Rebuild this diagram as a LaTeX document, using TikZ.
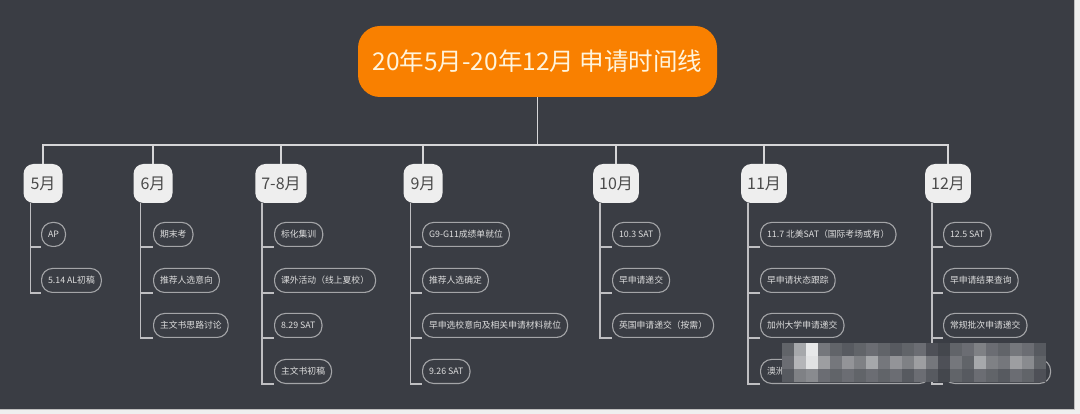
\documentclass[tikz,border=0pt]{standalone}
\usepackage{fontspec}
\setmainfont{Noto Sans CJK SC}
\definecolor{bgdark}{HTML}{3A3D44}
\definecolor{bglight}{HTML}{EFEFEF}
\definecolor{titleorange}{HTML}{F98000}
\definecolor{titletext}{HTML}{FFF4DC}
\definecolor{monthfill}{HTML}{EEEEEE}
\definecolor{monthtext}{HTML}{4A4A4A}
\definecolor{linecol}{HTML}{D6D6D8}
\definecolor{pillcol}{HTML}{A4A5A8}
\definecolor{leaftext}{HTML}{DDDDDD}
\tikzset{
  titlebox/.style={fill=titleorange, rounded corners=22pt, minimum width=359pt, minimum height=71pt,
    text=titletext, font=\fontsize{24.5}{24.5}\selectfont, inner sep=0pt},
  monthbox/.style={fill=monthfill, rounded corners=10pt, minimum width=39pt, minimum height=39pt,
    inner xsep=6pt, inner ysep=0pt, text=monthtext, font=\fontsize{16}{16}\selectfont},
  leafbox/.style={draw=pillcol, line width=1.1pt, rounded corners=11pt, minimum height=24pt,
    inner xsep=6.5pt, inner ysep=0pt, text=leaftext, font=\fontsize{8.8}{8.8}\selectfont, anchor=south west},
  busline/.style={draw=linecol, line width=1.9pt},
  trunkline/.style={draw=linecol!85!bgdark, line width=1.3pt},
}
\begin{document}
\begin{tikzpicture}[x=1pt,y=-1pt]
\useasboundingbox (0,0) rectangle (1080,414);
\fill[bglight] (0,0) rectangle (1080,414);
\fill[bgdark] (0,0) rectangle (1074,409);
\draw[black!25, line width=0.6pt] (1074.3,0) -- (1074.3,409.3) -- (0,409.3);

% title
\node[titlebox] (title) at (537.5,61.5) {20年5月-20年12月 申请时间线};

% months
\node[monthbox] (m1) at (43,183.5) {5月};
\node[monthbox] (m2) at (153,183.5) {6月};
\node[monthbox] (m3) at (281,183.5) {7-8月};
\node[monthbox] (m4) at (423,183.5) {9月};
\node[monthbox] (m5) at (616,183.5) {10月};
\node[monthbox] (m6) at (764,183.5) {11月};
\node[monthbox] (m7) at (948,183.5) {12月};

% bus
\coordinate (bus) at (0,145);
\draw[busline] (title.south) -- (title.south |- bus);
\draw[busline, line cap=rect] (m1.north |- bus) -- (m7.north |- bus);
\foreach \m in {m1,m2,m3,m4,m5,m6,m7}{
  \draw[busline] (\m.north |- bus) -- (\m.north);
}

% leaves: 5月
\node[leafbox] (a1) at (41,247) {AP};
\node[leafbox] (a2) at (41,293) {5.14 AL初稿};
% 6月
\node[leafbox] (b1) at (153,247) {期末考};
\node[leafbox] (b2) at (153,293) {推荐人选意向};
\node[leafbox] (b3) at (153,338) {主文书思路讨论};
% 7-8月
\node[leafbox] (c1) at (274,247) {标化集训};
\node[leafbox] (c2) at (274,293) {课外活动（线上夏校）};
\node[leafbox] (c3) at (274,338) {8.29 SAT};
\node[leafbox] (c4) at (274,384) {主文书初稿};
% 9月
\node[leafbox] (d1) at (422,247) {G9-G11成绩单就位};
\node[leafbox] (d2) at (422,293) {推荐人选确定};
\node[leafbox] (d3) at (422,338) {早申选校意向及相关申请材料就位};
\node[leafbox] (d4) at (422,384) {9.26 SAT};
% 10月
\node[leafbox] (e1) at (612,247) {10.3 SAT};
\node[leafbox] (e2) at (612,293) {早申请递交};
\node[leafbox] (e3) at (612,338) {英国申请递交（按需）};
% 11月
\node[leafbox, text width=157pt, align=left] (f4) at (760,384) {澳洲};
\node[leafbox] (f1) at (760,247) {11.7 北美SAT（国际考场或有）};
\node[leafbox] (f2) at (760,293) {早申请状态跟踪};
\node[leafbox] (f3) at (760,338) {加州大学申请递交};
% 12月
\node[leafbox] (g1) at (943,247) {12.5 SAT};
\node[leafbox] (g2) at (943,293) {早申请结果查询};
\node[leafbox] (g3) at (943,338) {常规批次申请递交};
\node[leafbox, minimum width=107pt] (g4) at (943,384) {};

% trunks and branches
\foreach \m/\leaves in {m1/{a1,a2}, m2/{b1,b2,b3}, m3/{c1,c2,c3,c4}, m4/{d1,d2,d3,d4},
                        m5/{e1,e2,e3}, m6/{f1,f2,f3,f4}, m7/{g1,g2,g3,g4}}{
  \foreach \l in \leaves {
    \draw[trunkline] ([xshift=7pt]\m.south west) |- (\l.south west);
  }
}

% mosaic over the hidden entries
\def\rowA{20,55,88,30,20,15,20,25,20,15,20,25,10,5,20,25,35,25,20,30,25,15}
\def\rowB{25,62,85,50,30,45,35,55,30,45,35,50,30,10,30,20,55,35,30,50,40,20}
\def\rowC{15,35,40,25,20,25,20,25,20,25,15,25,15,5,20,15,25,20,15,25,20,10}
\foreach \v [count=\i from 0] in \rowA {
  \fill[white!\v!bgdark] (782+12*\i,343) rectangle ++(12,13);
}
\foreach \v [count=\i from 0] in \rowB {
  \fill[white!\v!bgdark] (782+12*\i,356) rectangle ++(12,13);
}
\foreach \v [count=\i from 0] in \rowC {
  \fill[white!\v!bgdark] (782+12*\i,369) rectangle ++(12,13);
}
\end{tikzpicture}
\end{document}
